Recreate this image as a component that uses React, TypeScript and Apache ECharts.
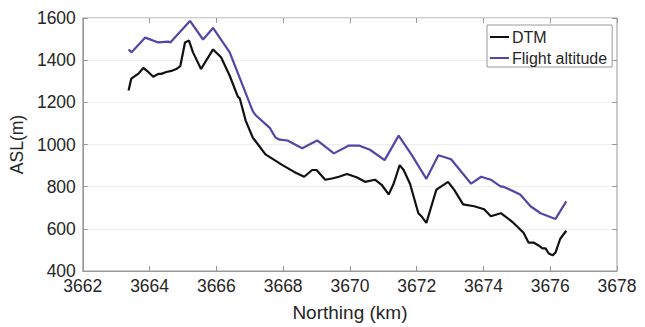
import React, { useEffect, useRef } from "react";
import * as echarts from "echarts";

const dtmX = [3663.37, 3663.45, 3663.57, 3663.66, 3663.81, 3663.96, 3664.11, 3664.26, 3664.35, 3664.5, 3664.65, 3664.8, 3664.92, 3665.06, 3665.18, 3665.3, 3665.54, 3665.9, 3666.14, 3666.4, 3666.64, 3666.7, 3666.88, 3667.09, 3667.47, 3667.98, 3668.33, 3668.63, 3668.87, 3669.0, 3669.26, 3669.5, 3669.67, 3669.91, 3670.2, 3670.45, 3670.75, 3670.95, 3671.16, 3671.31, 3671.49, 3671.61, 3671.8, 3672.05, 3672.14, 3672.29, 3672.44, 3672.59, 3672.94, 3673.12, 3673.39, 3673.72, 3674.02, 3674.22, 3674.52, 3674.72, 3674.9, 3675.2, 3675.35, 3675.5, 3675.65, 3675.77, 3675.86, 3675.95, 3676.07, 3676.16, 3676.3, 3676.48];
const dtmY = [1256, 1312, 1326, 1335, 1363, 1344, 1321, 1335, 1335, 1344, 1349, 1358, 1372, 1484, 1493, 1437, 1358, 1451, 1414, 1326, 1228, 1219, 1112, 1033, 953, 902, 870, 847, 879, 879, 833, 840, 847, 860, 845, 823, 833, 809, 763, 814, 902, 879, 814, 674, 660, 628, 707, 786, 823, 786, 716, 707, 693, 660, 674, 651, 628, 581, 535, 535, 521, 507, 507, 484, 474, 488, 553, 591];

const fltX = [3663.37, 3663.46, 3663.87, 3664.26, 3664.56, 3664.62, 3665.21, 3665.6, 3665.9, 3666.4, 3666.79, 3667.09, 3667.17, 3667.6, 3667.77, 3667.9, 3668.13, 3668.57, 3669.02, 3669.52, 3669.97, 3670.27, 3670.6, 3671.04, 3671.46, 3671.84, 3672.29, 3672.65, 3673.03, 3673.63, 3673.93, 3674.22, 3674.52, 3674.6, 3675.1, 3675.41, 3675.71, 3676.16, 3676.3, 3676.48];
const fltY = [1451, 1437, 1507, 1484, 1488, 1484, 1586, 1498, 1553, 1437, 1279, 1158, 1140, 1079, 1033, 1023, 1019, 982, 1019, 958, 995, 995, 975, 926, 1042, 953, 837, 949, 930, 814, 847, 833, 800, 800, 763, 707, 674, 647, 684, 730];

const FONT = "Liberation Sans";
const PURPLE = "#5346a6";
const TEXT = "#262626";

export default function App() {
  const ref = useRef<HTMLDivElement>(null);
  useEffect(() => {
    if (!ref.current) return;
    const chart = echarts.init(ref.current, undefined, { renderer: "svg" });
    const dtm = dtmX.map((x, i) => [x, dtmY[i]]);
    const flt = fltX.map((x, i) => [x, fltY[i]]);
    const tickStyle = { show: true, inside: true, length: 5, lineStyle: { color: "#999" } };
    const fmt = (v: number) => String(v);
    chart.setOption({
      animation: false,
      backgroundColor: "#fff",
      grid: {
        left: 79, right: 28, top: 18, bottom: 51,
        show: true, borderColor: "#999", borderWidth: 1, backgroundColor: "transparent",
      },
      legend: {
        orient: "vertical",
        left: 487, top: 25,
        padding: [4, 5, 1, 3],
        borderColor: "#999", borderWidth: 1,
        backgroundColor: "#fff",
        itemWidth: 19, itemHeight: 2, itemGap: 5,
        icon: "rect",
        textStyle: { fontFamily: FONT, fontSize: 16, lineHeight: 16, color: TEXT, padding: [0, 0, 0, -2] },
        data: ["DTM", "Flight altitude"],
      },
      xAxis: [
        {
          type: "value", min: 3662, max: 3678, interval: 2,
          name: "Northing (km)", nameLocation: "middle", nameGap: 32,
          nameTextStyle: { fontFamily: FONT, fontSize: 19, color: TEXT },
          axisLine: { show: true, lineStyle: { color: "#999" } },
          axisTick: tickStyle,
          axisLabel: { fontFamily: FONT, fontSize: 17.5, color: TEXT, margin: 6, formatter: fmt },
          splitLine: { show: false },
        },
        {
          type: "value", min: 3662, max: 3678, interval: 2, position: "top",
          axisLine: { show: false }, axisTick: tickStyle,
          axisLabel: { show: false }, splitLine: { show: false },
        },
      ],
      yAxis: [
        {
          type: "value", min: 400, max: 1600, interval: 200,
          name: "ASL(m)", nameLocation: "middle", nameGap: 52, nameRotate: 90,
          nameTextStyle: { fontFamily: FONT, fontSize: 17.5, color: TEXT },
          axisLine: { show: true, lineStyle: { color: "#999" } },
          axisTick: tickStyle,
          axisLabel: { fontFamily: FONT, fontSize: 17.5, color: TEXT, margin: 7, formatter: fmt },
          splitLine: { show: true, lineStyle: { color: "#eeeeee", width: 1 } },
        },
        {
          type: "value", min: 400, max: 1600, interval: 200, position: "right",
          axisLine: { show: false }, axisTick: tickStyle,
          axisLabel: { show: false }, splitLine: { show: false },
        },
      ],
      series: [
        {
          name: "DTM", type: "line", data: dtm, showSymbol: false, symbol: "none",
          lineStyle: { color: "#111", width: 2.2 }, itemStyle: { color: "#111" },
        },
        {
          name: "Flight altitude", type: "line", data: flt, showSymbol: false, symbol: "none",
          lineStyle: { color: PURPLE, width: 2.2 }, itemStyle: { color: PURPLE },
        },
      ],
    });
    return () => chart.dispose();
  }, []);
  return <div ref={ref} style={{ width: 645, height: 327, position: "absolute", left: 0, top: 0 }} />;
}
